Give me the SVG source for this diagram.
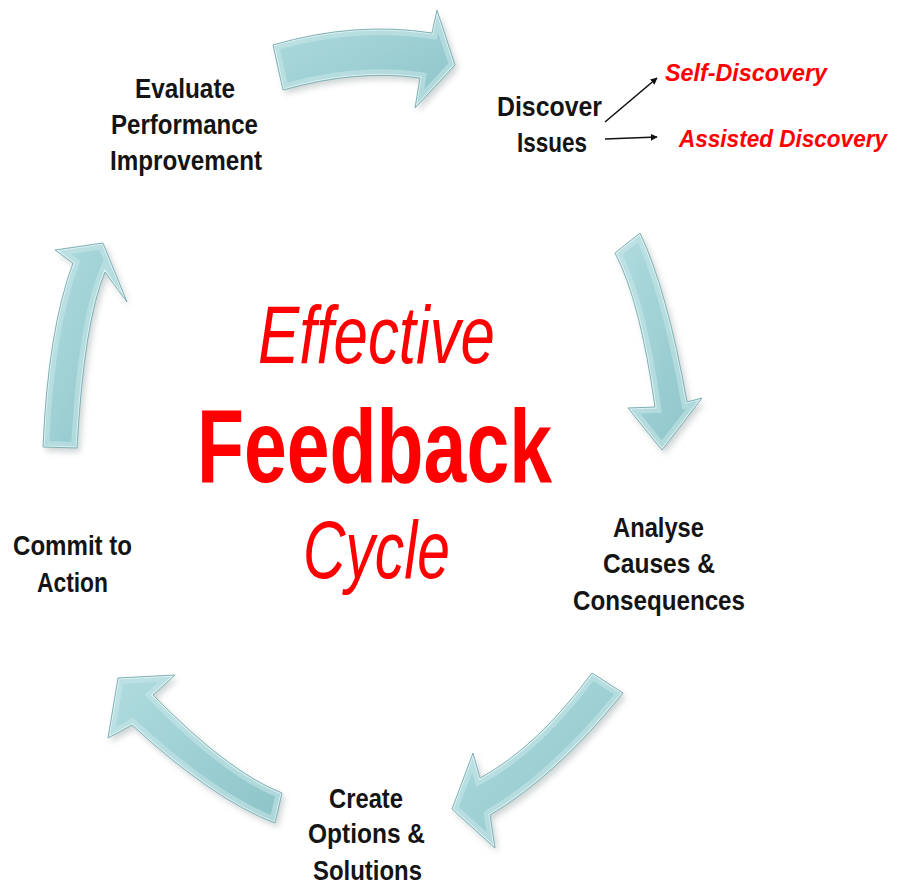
<svg xmlns="http://www.w3.org/2000/svg" xmlns:xlink="http://www.w3.org/1999/xlink" width="899" height="886" viewBox="0 0 899 886">
  <style>
    .lbl { font-family: "Liberation Sans", Arial, sans-serif; font-weight: bold; font-size: 27px; fill: #141414; }
    .sub { font-family: "Liberation Sans", Arial, sans-serif; font-weight: bold; font-style: italic; font-size: 23px; fill: #ff0000; }
    .title-it { font-family: "Liberation Sans", Arial, sans-serif; font-style: italic; font-size: 81px; fill: #ff0000; }
    .title-b { font-family: "Liberation Sans", Arial, sans-serif; font-weight: bold; font-size: 103px; fill: #ff0000; }
    .shadow { fill: #5a6e70; opacity: 0.3; filter: url(#soft); }
    .body { fill: url(#teal); }
    .rim { fill: none; stroke: #c8e8ea; stroke-width: 12; opacity: 0.55; }
    .rim-hi { fill: none; stroke: #ffffff; stroke-width: 3; opacity: 0.55; }
    .edge { fill: none; stroke: #7fb2b6; stroke-width: 1; }
    .pointer { fill: none; stroke: #111; stroke-width: 1.6; marker-end: url(#tip); }
  </style>
  <defs>
    <linearGradient id="teal" x1="0" y1="0" x2="1" y2="1">
      <stop offset="0" stop-color="#b0dcdf"/>
      <stop offset="0.5" stop-color="#9ed0d4"/>
      <stop offset="1" stop-color="#8cc3c7"/>
    </linearGradient>
    <filter id="soft" x="-20%" y="-20%" width="140%" height="140%">
      <feGaussianBlur stdDeviation="3"/>
    </filter>
    <marker id="tip" viewBox="0 0 10 10" refX="9" refY="5" markerWidth="7" markerHeight="7" orient="auto" markerUnits="userSpaceOnUse">
      <path d="M0,0 L10,5 L0,10 Z" fill="#111"/>
    </marker>
    <!-- curved block arrows of the cycle -->
    <path id="a-top" d="M273,45 Q355,21 432,33 L437,10 L455,65 L415,108 L420,78 Q357,69 283,90 Z"/>
    <path id="a-right" d="M615,253 Q640,300 655,407 L628,408 L662,450 L702,398 L687,402 Q667,290 640,233 Z"/>
    <path id="a-lowright" d="M592,673 Q536,748 480,778 L473,753 L452,809 L495,848 L490,815 Q556,776 623,693 Z"/>
    <path id="a-lowleft" d="M282,793 Q228,772 153,695 L175,675 L118,678 L108,738 L132,725 Q214,800 275,823 Z"/>
    <path id="a-left" d="M43,447 Q48,330 73,263 L55,250 L103,243 L127,302 L105,272 Q84,322 77,448 Z"/>
    <clipPath id="c-top"><use xlink:href="#a-top"/></clipPath>
    <clipPath id="c-right"><use xlink:href="#a-right"/></clipPath>
    <clipPath id="c-lowright"><use xlink:href="#a-lowright"/></clipPath>
    <clipPath id="c-lowleft"><use xlink:href="#a-lowleft"/></clipPath>
    <clipPath id="c-left"><use xlink:href="#a-left"/></clipPath>
  </defs>

  <rect width="899" height="886" fill="#ffffff"/>

  <g id="connectors">
    <g id="arrow-evaluate-discover">
      <use xlink:href="#a-top" class="shadow" transform="translate(3,4)"/>
      <use xlink:href="#a-top" class="body"/>
      <g clip-path="url(#c-top)"><use xlink:href="#a-top" class="rim"/><use xlink:href="#a-top" class="rim-hi"/></g>
      <use xlink:href="#a-top" class="edge"/>
    </g>
    <g id="arrow-discover-analyse">
      <use xlink:href="#a-right" class="shadow" transform="translate(3,4)"/>
      <use xlink:href="#a-right" class="body"/>
      <g clip-path="url(#c-right)"><use xlink:href="#a-right" class="rim"/><use xlink:href="#a-right" class="rim-hi"/></g>
      <use xlink:href="#a-right" class="edge"/>
    </g>
    <g id="arrow-analyse-create">
      <use xlink:href="#a-lowright" class="shadow" transform="translate(3,4)"/>
      <use xlink:href="#a-lowright" class="body"/>
      <g clip-path="url(#c-lowright)"><use xlink:href="#a-lowright" class="rim"/><use xlink:href="#a-lowright" class="rim-hi"/></g>
      <use xlink:href="#a-lowright" class="edge"/>
    </g>
    <g id="arrow-create-commit">
      <use xlink:href="#a-lowleft" class="shadow" transform="translate(3,4)"/>
      <use xlink:href="#a-lowleft" class="body"/>
      <g clip-path="url(#c-lowleft)"><use xlink:href="#a-lowleft" class="rim"/><use xlink:href="#a-lowleft" class="rim-hi"/></g>
      <use xlink:href="#a-lowleft" class="edge"/>
    </g>
    <g id="arrow-commit-evaluate">
      <use xlink:href="#a-left" class="shadow" transform="translate(3,4)"/>
      <use xlink:href="#a-left" class="body"/>
      <g clip-path="url(#c-left)"><use xlink:href="#a-left" class="rim"/><use xlink:href="#a-left" class="rim-hi"/></g>
      <use xlink:href="#a-left" class="edge"/>
    </g>
    <!-- pointers from "Discover Issues" to its two modes -->
    <line id="to-self" class="pointer" x1="605" y1="122" x2="657" y2="78"/>
    <line id="to-assisted" class="pointer" x1="605" y1="139" x2="657" y2="137"/>
  </g>

  <g id="title">
    <text class="title-it" x="258" y="363" textLength="237" lengthAdjust="spacingAndGlyphs">Effective</text>
    <text class="title-b" x="197" y="482" textLength="355" lengthAdjust="spacingAndGlyphs">Feedback</text>
    <text class="title-it" x="303" y="578" textLength="147" lengthAdjust="spacingAndGlyphs">Cycle</text>
  </g>

  <g id="node-evaluate">
    <text class="lbl" x="135" y="98" textLength="100" lengthAdjust="spacingAndGlyphs">Evaluate</text>
    <text class="lbl" x="111" y="134" textLength="147" lengthAdjust="spacingAndGlyphs">Performance</text>
    <text class="lbl" x="110" y="170" textLength="152" lengthAdjust="spacingAndGlyphs">Improvement</text>
  </g>

  <g id="node-discover">
    <text class="lbl" x="497" y="116" textLength="105" lengthAdjust="spacingAndGlyphs">Discover</text>
    <text class="lbl" x="517" y="152" textLength="70" lengthAdjust="spacingAndGlyphs">Issues</text>
  </g>

  <g id="node-self-discovery">
    <text class="sub" x="665" y="81" textLength="162" lengthAdjust="spacingAndGlyphs">Self-Discovery</text>
  </g>

  <g id="node-assisted-discovery">
    <text class="sub" x="679" y="147" textLength="208" lengthAdjust="spacingAndGlyphs">Assisted Discovery</text>
  </g>

  <g id="node-analyse">
    <text class="lbl" x="613" y="537" textLength="91" lengthAdjust="spacingAndGlyphs">Analyse</text>
    <text class="lbl" x="603" y="573" textLength="112" lengthAdjust="spacingAndGlyphs">Causes &amp;</text>
    <text class="lbl" x="573" y="610" textLength="172" lengthAdjust="spacingAndGlyphs">Consequences</text>
  </g>

  <g id="node-create">
    <text class="lbl" x="329" y="808" textLength="74" lengthAdjust="spacingAndGlyphs">Create</text>
    <text class="lbl" x="308" y="843" textLength="117" lengthAdjust="spacingAndGlyphs">Options &amp;</text>
    <text class="lbl" x="313" y="880" textLength="109" lengthAdjust="spacingAndGlyphs">Solutions</text>
  </g>

  <g id="node-commit">
    <text class="lbl" x="13" y="555" textLength="119" lengthAdjust="spacingAndGlyphs">Commit to</text>
    <text class="lbl" x="37" y="592" textLength="71" lengthAdjust="spacingAndGlyphs">Action</text>
  </g>
</svg>
